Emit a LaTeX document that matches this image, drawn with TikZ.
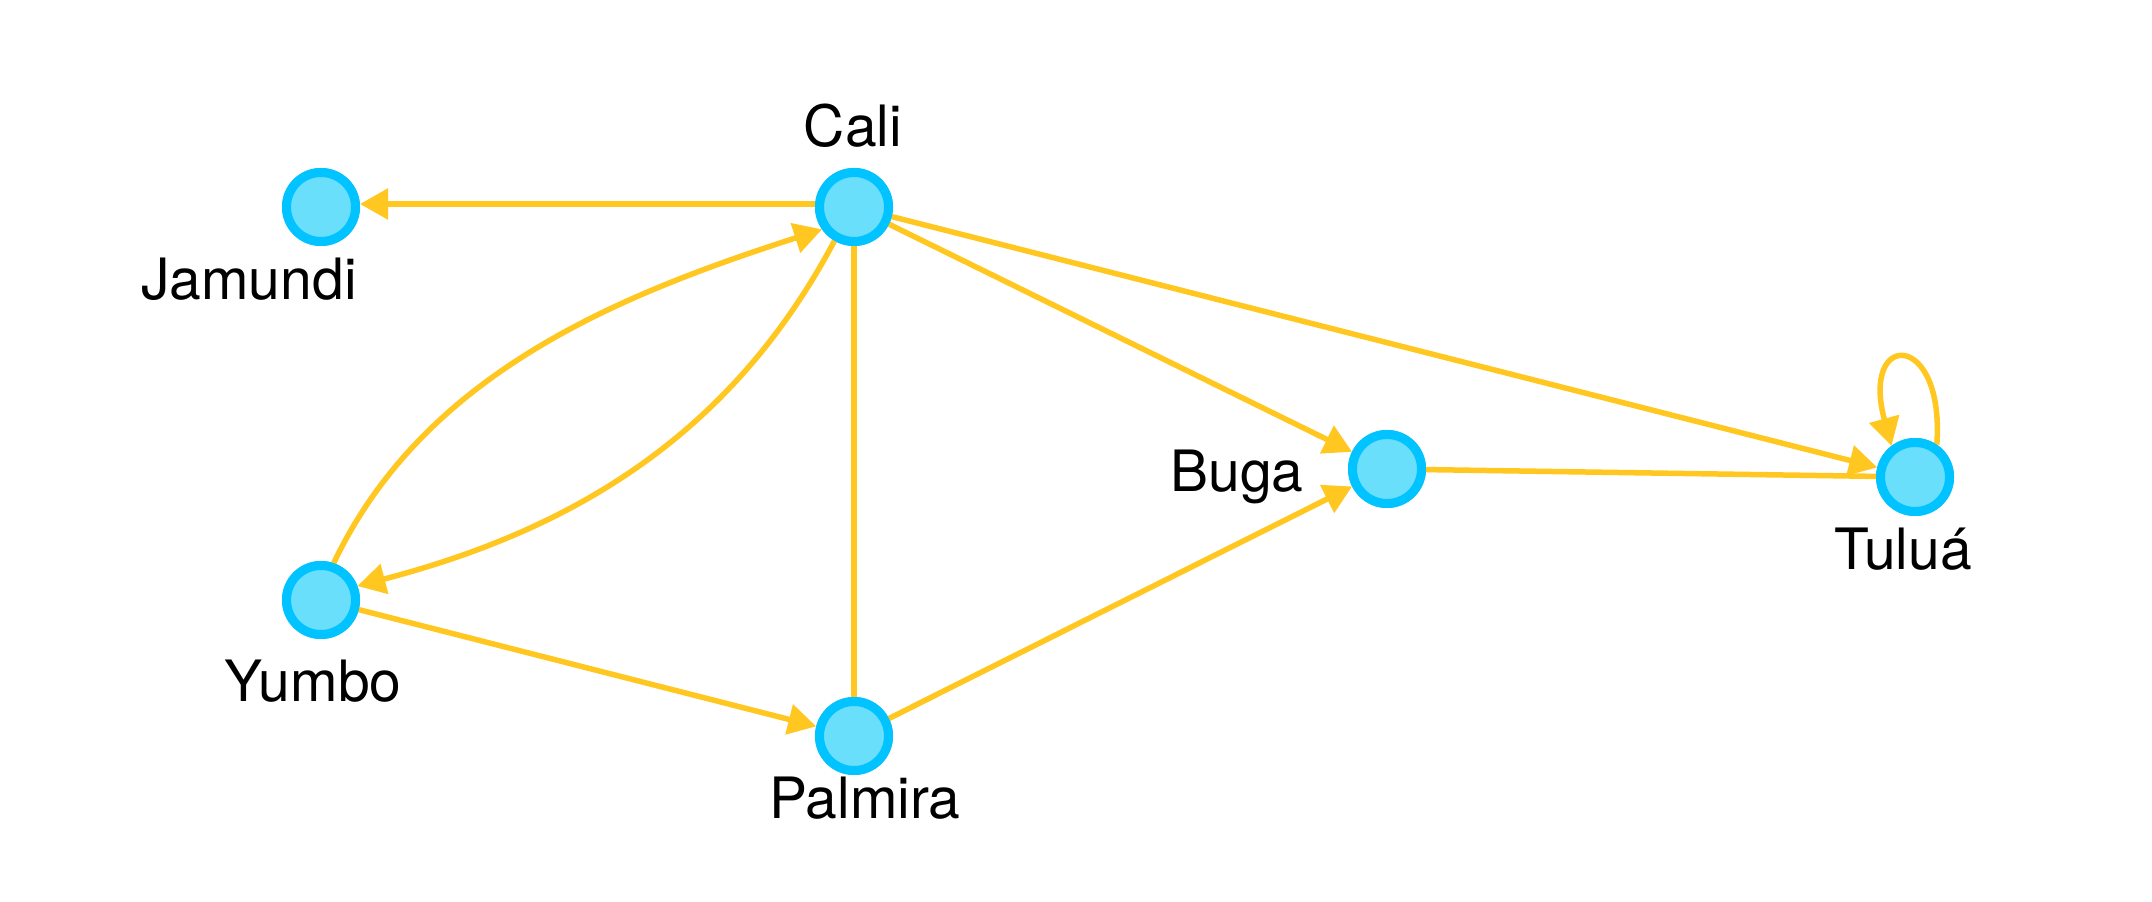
\documentclass[tikz,border=0pt]{standalone}
\usepackage{fontspec}
\setmainfont{TeX Gyre Heros}
\usetikzlibrary{arrows.meta}
\definecolor{edgeyellow}{RGB}{255,199,32}
\definecolor{nodeborder}{RGB}{0,195,255}
\definecolor{nodefill}{RGB}{105,223,252}
\tikzset{
  city/.style={circle, draw=nodeborder, fill=nodefill, line width=9pt, minimum size=69pt, inner sep=0pt},
  citylabel/.style={anchor=base, font=\fontsize{57pt}{60pt}\selectfont, text=black, inner sep=0pt},
  link/.style={draw=edgeyellow, line width=5.5pt},
  arc/.style={link, -{Triangle[length=28pt,width=30pt]}}
}
\begin{document}
\begin{tikzpicture}[x=1pt,y=1pt]
\fill[white] (0,0) rectangle (2152,902);
\useasboundingbox (0,0) rectangle (2152,902);

% nodes
\node[city] (jamundi) at (321,695) {};
\node[city] (cali)    at (854,695) {};
\node[city] (yumbo)   at (321,302) {};
\node[city] (palmira) at (854,166) {};
\node[city] (buga)    at (1387,433) {};
\node[city] (tulua)   at (1915,425) {};

% labels
\node[citylabel] (lcali)    at (853,755) {Cali};
\node[citylabel] (ljamundi) at (249,602) {Jamundi};
\node[citylabel] (lyumbo)   at (313,200) {Yumbo};
\node[citylabel] (lpalmira) at (865,83)  {Palmira};
\node[citylabel] (lbuga)    at (1237,410) {Buga};
\node[citylabel] (ltulua)   at (1903,332) {Tuluá};

% connectors
\draw[arc] ([yshift=3pt]cali.west) -- ([yshift=3pt]jamundi.east);
\draw[arc] (yumbo.71) .. controls (424,529) and (619,607) .. (cali.215);
\draw[arc] (cali.240) .. controls (731,466) and (572,372) .. (yumbo.21);
\draw[link] (cali) -- (palmira);
\draw[arc] (cali) -- (buga);
\draw[arc] (cali) -- (tulua);
\draw[arc] (yumbo) -- (palmira);
\draw[arc] (palmira) -- (buga);
\draw[link] (buga) -- (tulua);
\draw[arc] (tulua.56) .. controls (1945,572) and (1860,572) .. (tulua.127);

% redraw nodes on top
\node[city] at (jamundi) {};
\node[city] at (cali) {};
\node[city] at (yumbo) {};
\node[city] at (palmira) {};
\node[city] at (buga) {};
\node[city] at (tulua) {};
\end{tikzpicture}
\end{document}
